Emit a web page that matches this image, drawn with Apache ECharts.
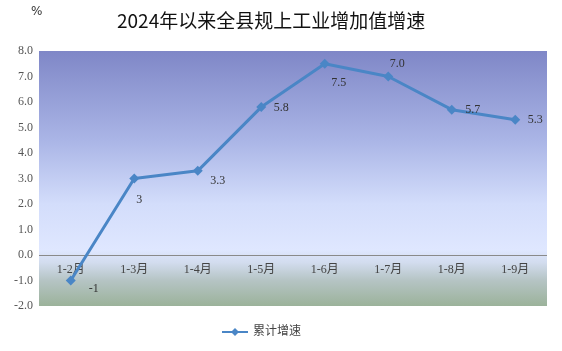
<!DOCTYPE html>
<html>
<head>
<meta charset="utf-8">
<script src="https://cdn.jsdelivr.net/npm/echarts@6/dist/echarts.min.js"></script>
<style>
  html, body { margin: 0; padding: 0; background: #fff; }
  #chart { width: 562px; height: 351px; }
</style>
</head>
<body>
<div id="chart"></div>
<script>
const categories = ["1-2月", "1-3月", "1-4月", "1-5月", "1-6月", "1-7月", "1-8月", "1-9月"];
const growth = [-1, 3, 3.3, 5.8, 7.5, 7.0, 5.7, 5.3];
const labelText = ["-1", "3", "3.3", "5.8", "7.5", "7.0", "5.7", "5.3"];
const seriesName = "累计增速";

// label placement per point (offset in px from the point)
const labelOffsets = [[23, 8], [5, 21], [20, 10], [20, 1], [14, 19], [9, -13], [21, 0], [20, 0]];

const serif = "'Liberation Serif', 'DejaVu Serif', 'Noto Sans CJK SC', serif";

const chart = echarts.init(document.getElementById("chart"));

const seriesData = growth.map((v, i) => ({
  value: v,
  label: {
    show: true,
    position: "inside",
    offset: labelOffsets[i],
    formatter: labelText[i]
  }
}));

// only the zero line is drawn among the split lines (-2 .. 8)
const splitColors = ["transparent", "transparent", "#8a8a8a", "transparent", "transparent",
  "transparent", "transparent", "transparent", "transparent", "transparent", "transparent"];

chart.setOption({
  animation: false,
  title: {
    text: "2024年以来全县规上工业增加值增速",
    left: 112,
    top: 6,
    textStyle: {
      fontFamily: "'Noto Sans CJK SC', sans-serif",
      fontSize: 19,
      fontWeight: "normal",
      color: "#111"
    }
  },
  graphic: [{
    type: "text",
    left: 31,
    top: 6,
    style: { text: "%", fontSize: 12, fill: "#333", fontFamily: "'DejaVu Sans', sans-serif" }
  }],
  legend: {
    top: 321,
    left: 216,
    data: [seriesName],
    itemWidth: 26,
    itemHeight: 10,
    itemGap: 4,
    textStyle: { fontFamily: serif, fontSize: 12, color: "#444" }
  },
  grid: {
    left: 39,
    right: 15,
    top: 51,
    bottom: 45,
    show: true,
    borderWidth: 0,
    backgroundColor: new echarts.graphic.LinearGradient(0, 0, 0, 1, [
      { offset: 0, color: "#7f87c7" },
      { offset: 0.35, color: "#aab5e6" },
      { offset: 0.6, color: "#d3ddfb" },
      { offset: 0.78, color: "#dfe7ff" },
      { offset: 0.83, color: "#d2dcee" },
      { offset: 0.9, color: "#b5c4c4" },
      { offset: 1, color: "#9bb29a" }
    ])
  },
  xAxis: {
    type: "category",
    data: categories,
    boundaryGap: true,
    axisLine: { show: false },
    axisTick: { show: false },
    axisLabel: {
      fontFamily: serif,
      fontSize: 12,
      color: "#444",
      margin: -42
    }
  },
  yAxis: {
    type: "value",
    min: -2,
    max: 8,
    interval: 1,
    axisLine: { show: false },
    axisTick: { show: false },
    splitLine: { show: true, lineStyle: { color: splitColors, width: 1 } },
    axisLabel: {
      fontFamily: serif,
      fontSize: 12,
      color: "#555",
      margin: 6,
      formatter: v => v.toFixed(1)
    }
  },
  series: [{
    name: seriesName,
    type: "line",
    data: seriesData,
    symbol: "diamond",
    symbolSize: 10,
    lineStyle: { color: "#4a86c6", width: 3 },
    itemStyle: { color: "#4a86c6" },
    label: {
      fontFamily: serif,
      fontSize: 12,
      color: "#333"
    }
  }]
});
</script>
</body>
</html>
